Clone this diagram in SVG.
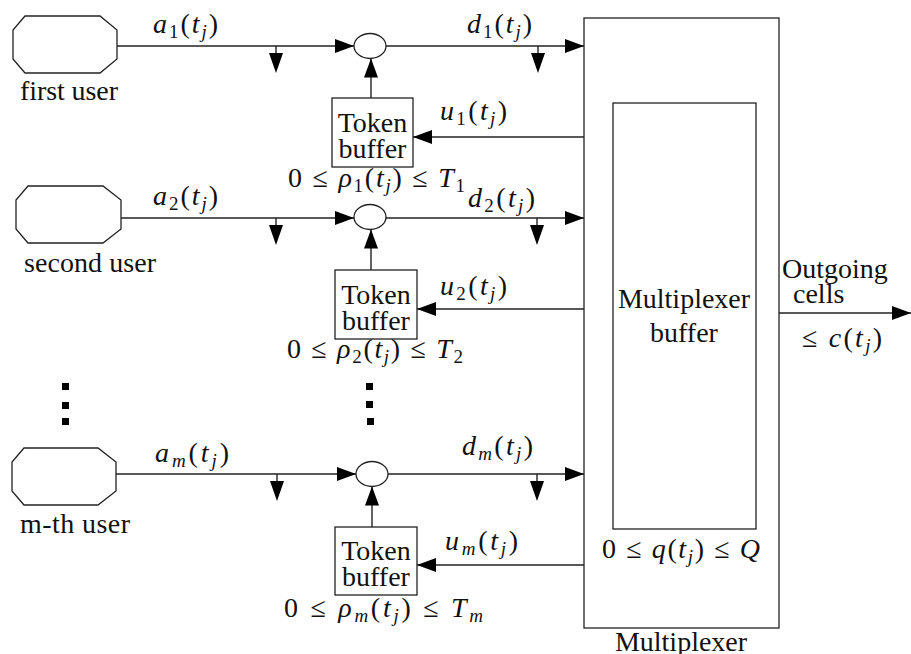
<svg xmlns="http://www.w3.org/2000/svg" xmlns:xlink="http://www.w3.org/1999/xlink" width="911" height="654" viewBox="0 0 911 654" font-family="'Liberation Serif', 'DejaVu Serif', serif" font-size="28">
<style>
.ln{stroke:#222;stroke-width:1.4;fill:none}
.sh{stroke:#222;stroke-width:1.3;fill:#fff}
text{fill:#111}
.i{font-style:italic}
.s{font-size:19px}
.c{text-anchor:middle}
</style>
<defs>
<marker id="ah" markerUnits="userSpaceOnUse" markerWidth="19" markerHeight="14" refX="19" refY="7" orient="auto">
<path d="M0,0 L19,7 L0,14 z" fill="#000"/>
</marker>
<g id="tick">
<line x1="0" y1="0" x2="0" y2="8" stroke="#222" stroke-width="1.4"/>
<polygon points="-7,7 7,7 0,27" fill="#000"/>
</g>
</defs>

<g id="user1">
<polygon class="sh" points="25,16 100,16 117,30 117,59 100,73 25,73 13,59 13,30"/>
<text x="20" y="100" textLength="98" lengthAdjust="spacing">first user</text>
</g>
<g id="user2">
<polygon class="sh" points="28,186 103,186 121,200 121,229 103,243 28,243 16,229 16,200"/>
<text x="24" y="272" textLength="132" lengthAdjust="spacing">second user</text>
</g>
<g id="userm">
<polygon class="sh" points="24,448 98,448 116,462 116,491 98,505 24,505 12,491 12,462"/>
<text x="20" y="533" textLength="110" lengthAdjust="spacing">m-th user</text>
</g>

<g id="sum1"><ellipse class="sh" cx="370" cy="46" rx="16" ry="12.5"/></g>
<g id="sum2"><ellipse class="sh" cx="370" cy="217" rx="16" ry="12.5"/></g>
<g id="summ"><ellipse class="sh" cx="372" cy="474" rx="16" ry="12.5"/></g>

<g id="token1">
<rect class="sh" x="332" y="98" width="81" height="69"/>
<text class="c" x="372.5" y="132">Token</text>
<text class="c" x="372.5" y="158">buffer</text>
</g>
<g id="token2">
<rect class="sh" x="335" y="270" width="82" height="69"/>
<text class="c" x="376" y="304">Token</text>
<text class="c" x="376" y="330">buffer</text>
</g>
<g id="tokenm">
<rect class="sh" x="335" y="527" width="82" height="68"/>
<text class="c" x="376" y="560">Token</text>
<text class="c" x="376" y="586">buffer</text>
</g>

<g id="multiplexer">
<rect class="sh" x="584" y="18" width="195" height="610"/>
<text class="c" x="681" y="651">Multiplexer</text>
</g>
<g id="mux-buffer">
<rect class="sh" x="613" y="103" width="143" height="426"/>
<text class="c" x="684" y="308">Multiplexer</text>
<text class="c" x="684" y="342">buffer</text>
</g>

<g id="connectors">
<line class="ln" x1="117" y1="46" x2="354" y2="46" marker-end="url(#ah)"/>
<line class="ln" x1="386" y1="46" x2="584" y2="46" marker-end="url(#ah)"/>
<line class="ln" x1="371" y1="98" x2="371" y2="58.5" marker-end="url(#ah)"/>
<line class="ln" x1="584" y1="137" x2="413" y2="137" marker-end="url(#ah)"/>

<line class="ln" x1="121" y1="218" x2="354" y2="218" marker-end="url(#ah)"/>
<line class="ln" x1="386" y1="218" x2="584" y2="218" marker-end="url(#ah)"/>
<line class="ln" x1="371" y1="270" x2="371" y2="229.5" marker-end="url(#ah)"/>
<line class="ln" x1="584" y1="309" x2="417" y2="309" marker-end="url(#ah)"/>

<line class="ln" x1="116" y1="474" x2="356" y2="474" marker-end="url(#ah)"/>
<line class="ln" x1="388" y1="474" x2="584" y2="474" marker-end="url(#ah)"/>
<line class="ln" x1="372" y1="527" x2="372" y2="486.5" marker-end="url(#ah)"/>
<line class="ln" x1="584" y1="565" x2="417" y2="565" marker-end="url(#ah)"/>

<line class="ln" x1="779" y1="313" x2="911" y2="313" marker-end="url(#ah)"/>

<use xlink:href="#tick" x="276" y="46"/>
<use xlink:href="#tick" x="538" y="46"/>
<use xlink:href="#tick" x="276" y="218"/>
<use xlink:href="#tick" x="537" y="218"/>
<use xlink:href="#tick" x="277" y="474"/>
<use xlink:href="#tick" x="537" y="474"/>
</g>

<g id="labels">
<text x="153" y="33" textLength="65" lengthAdjust="spacing"><tspan class="i">a</tspan><tspan class="s" dy="5">1</tspan><tspan dy="-5">(</tspan><tspan class="i">t</tspan><tspan class="i s" dy="5">j</tspan><tspan dy="-5">)</tspan></text>
<text x="467" y="33" textLength="65" lengthAdjust="spacing"><tspan class="i">d</tspan><tspan class="s" dy="5">1</tspan><tspan dy="-5">(</tspan><tspan class="i">t</tspan><tspan class="i s" dy="5">j</tspan><tspan dy="-5">)</tspan></text>
<text x="440" y="120" textLength="67" lengthAdjust="spacing"><tspan class="i">u</tspan><tspan class="s" dy="5">1</tspan><tspan dy="-5">(</tspan><tspan class="i">t</tspan><tspan class="i s" dy="5">j</tspan><tspan dy="-5">)</tspan></text>
<text x="288" y="187" textLength="177" lengthAdjust="spacing">0 ≤ <tspan class="i">ρ</tspan><tspan class="s" dy="5">1</tspan><tspan dy="-5">(</tspan><tspan class="i">t</tspan><tspan class="i s" dy="5">j</tspan><tspan dy="-5">) ≤ </tspan><tspan class="i">T</tspan><tspan class="s" dy="5">1</tspan></text>

<text x="153" y="205" textLength="65" lengthAdjust="spacing"><tspan class="i">a</tspan><tspan class="s" dy="5">2</tspan><tspan dy="-5">(</tspan><tspan class="i">t</tspan><tspan class="i s" dy="5">j</tspan><tspan dy="-5">)</tspan></text>
<text x="468" y="207" textLength="67" lengthAdjust="spacing"><tspan class="i">d</tspan><tspan class="s" dy="5">2</tspan><tspan dy="-5">(</tspan><tspan class="i">t</tspan><tspan class="i s" dy="5">j</tspan><tspan dy="-5">)</tspan></text>
<text x="440" y="295" textLength="67" lengthAdjust="spacing"><tspan class="i">u</tspan><tspan class="s" dy="5">2</tspan><tspan dy="-5">(</tspan><tspan class="i">t</tspan><tspan class="i s" dy="5">j</tspan><tspan dy="-5">)</tspan></text>
<text x="287" y="358" textLength="176" lengthAdjust="spacing">0 ≤ <tspan class="i">ρ</tspan><tspan class="s" dy="5">2</tspan><tspan dy="-5">(</tspan><tspan class="i">t</tspan><tspan class="i s" dy="5">j</tspan><tspan dy="-5">) ≤ </tspan><tspan class="i">T</tspan><tspan class="s" dy="5">2</tspan></text>

<text x="155" y="462" textLength="74" lengthAdjust="spacing"><tspan class="i">a</tspan><tspan class="i s" dy="5">m</tspan><tspan dy="-5">(</tspan><tspan class="i">t</tspan><tspan class="i s" dy="5">j</tspan><tspan dy="-5">)</tspan></text>
<text x="462" y="455" textLength="71" lengthAdjust="spacing"><tspan class="i">d</tspan><tspan class="i s" dy="5">m</tspan><tspan dy="-5">(</tspan><tspan class="i">t</tspan><tspan class="i s" dy="5">j</tspan><tspan dy="-5">)</tspan></text>
<text x="445" y="550" textLength="73" lengthAdjust="spacing"><tspan class="i">u</tspan><tspan class="i s" dy="5">m</tspan><tspan dy="-5">(</tspan><tspan class="i">t</tspan><tspan class="i s" dy="5">j</tspan><tspan dy="-5">)</tspan></text>
<text x="284" y="617" textLength="199" lengthAdjust="spacing">0 ≤ <tspan class="i">ρ</tspan><tspan class="i s" dy="5">m</tspan><tspan dy="-5">(</tspan><tspan class="i">t</tspan><tspan class="i s" dy="5">j</tspan><tspan dy="-5">) ≤ </tspan><tspan class="i">T</tspan><tspan class="i s" dy="5">m</tspan></text>

<text x="602" y="558" textLength="158" lengthAdjust="spacing">0 ≤ <tspan class="i">q</tspan>(<tspan class="i">t</tspan><tspan class="i s" dy="5">j</tspan><tspan dy="-5">) ≤ </tspan><tspan class="i">Q</tspan></text>

<text x="782" y="278">Outgoing</text>
<text x="793" y="303">cells</text>
<text x="802" y="347" textLength="80" lengthAdjust="spacing">≤ <tspan class="i">c</tspan>(<tspan class="i">t</tspan><tspan class="i s" dy="5">j</tspan><tspan dy="-5">)</tspan></text>
</g>

<g id="ellipsis-users" fill="#000">
<rect x="62" y="383" width="7" height="7"/>
<rect x="62" y="402" width="7" height="7"/>
<rect x="62" y="418" width="7" height="7"/>
</g>
<g id="ellipsis-tokens" fill="#000">
<rect x="366" y="383" width="7" height="7"/>
<rect x="366" y="401" width="7" height="7"/>
<rect x="367" y="418" width="7" height="7"/>
</g>
</svg>
